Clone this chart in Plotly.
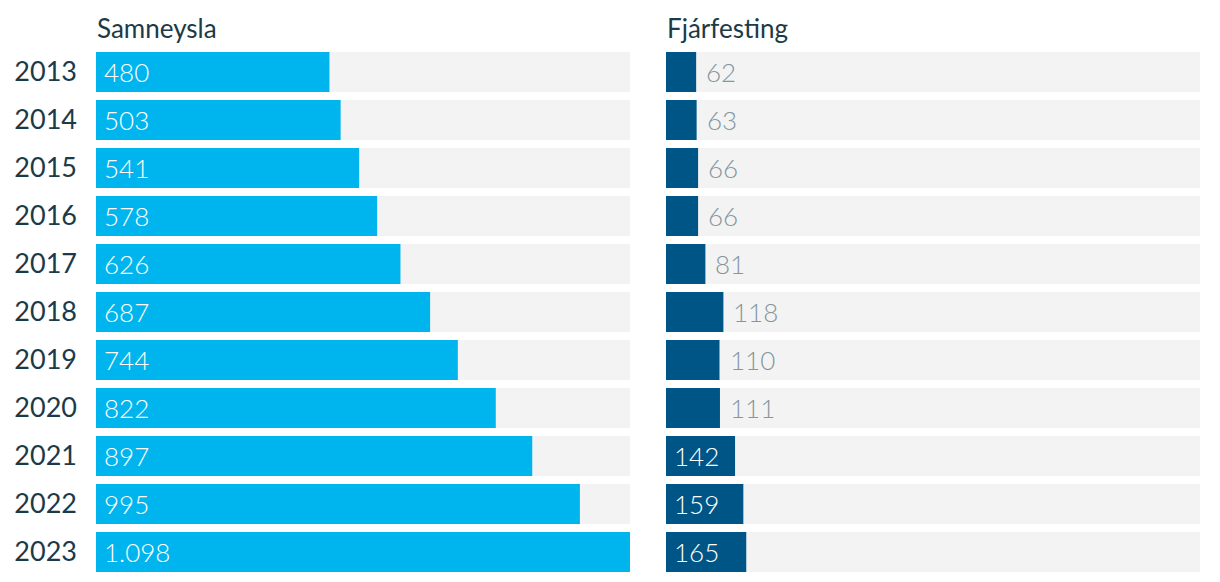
import plotly.graph_objects as go

years = ["2013", "2014", "2015", "2016", "2017", "2018", "2019", "2020", "2021", "2022", "2023"]
samneysla = [480, 503, 541, 578, 626, 687, 744, 822, 897, 995, 1098]
fjarfesting = [62, 63, 66, 66, 81, 118, 110, 111, 142, 159, 165]
titles = ["Samneysla", "Fjárfesting"]

W, H = 1220, 582
xmax = max(samneysla + fjarfesting)

def fmt(v):
    return f"{v:,}".replace(",", ".")

c_left = "#00b5ee"
c_right = "#005587"
c_bg = "#f3f3f3"
c_dark = "#1c3a47"
c_grey = "#84969e"
FONT = "Lato"
FONT_LIGHT = "Lato Light, Lato"

fig = go.Figure()
series = [(samneysla, c_left, "x", "y"), (fjarfesting, c_right, "x2", "y2")]
for vals, col, xa, ya in series:
    fig.add_trace(go.Bar(y=years, x=[xmax] * len(years), orientation="h",
                         marker=dict(color=c_bg, line_width=0), xaxis=xa, yaxis=ya,
                         hoverinfo="skip", showlegend=False))
    fig.add_trace(go.Bar(y=years, x=vals, orientation="h",
                         marker=dict(color=col, line_width=0), xaxis=xa, yaxis=ya,
                         showlegend=False))

ann = []
inside_min_px = 60
for vals, xa, ya in [(samneysla, "x", "y"), (fjarfesting, "x2", "y2")]:
    for i, v in enumerate(vals):
        px = v / xmax * 534
        if px >= inside_min_px:
            ann.append(dict(x=0, y=i, xref=xa, yref=ya, text=fmt(v), showarrow=False,
                            xanchor="left", yanchor="middle", xshift=6,
                            font=dict(family=FONT_LIGHT, size=26, color="white", weight=300)))
        else:
            ann.append(dict(x=v, y=i, xref=xa, yref=ya, text=fmt(v), showarrow=False,
                            xanchor="left", yanchor="middle", xshift=8,
                            font=dict(family=FONT_LIGHT, size=26, color=c_grey, weight=300)))

x0s = [96 / W, 666 / W]
for t, x0 in zip(titles, x0s):
    ann.append(dict(x=x0, y=1 - 28 / H, xref="paper", yref="paper", text=t, showarrow=False,
                    xanchor="left", yanchor="middle", xshift=-1,
                    font=dict(family=FONT, size=26, color=c_dark)))

ydom = [1 - 576 / H, 1 - 48 / H]
yrange = [len(years) - 0.5, -0.5]
fig.update_layout(
    width=W, height=H, margin=dict(l=0, r=0, t=0, b=0),
    paper_bgcolor="white", plot_bgcolor="white",
    barmode="overlay", bargap=8 / 48,
    annotations=ann,
    xaxis=dict(domain=[96 / W, 630 / W], range=[0, xmax], visible=False, fixedrange=True),
    xaxis2=dict(domain=[666 / W, 1200 / W], range=[0, xmax], visible=False, fixedrange=True),
    yaxis=dict(domain=ydom, type="category", categoryorder="array", categoryarray=years,
               range=yrange, autorange=False, showgrid=False, fixedrange=True,
               zeroline=False, showline=False, ticks="", ticklabelstandoff=18,
               tickfont=dict(family=FONT, size=27, color=c_dark), anchor="x"),
    yaxis2=dict(domain=ydom, type="category", categoryorder="array", categoryarray=years,
                range=yrange, autorange=False, visible=False, anchor="x2", fixedrange=True),
)

fig.write_html("out.html", config={"displayModeBar": False},
               post_script="document.body.style.margin='0';")
